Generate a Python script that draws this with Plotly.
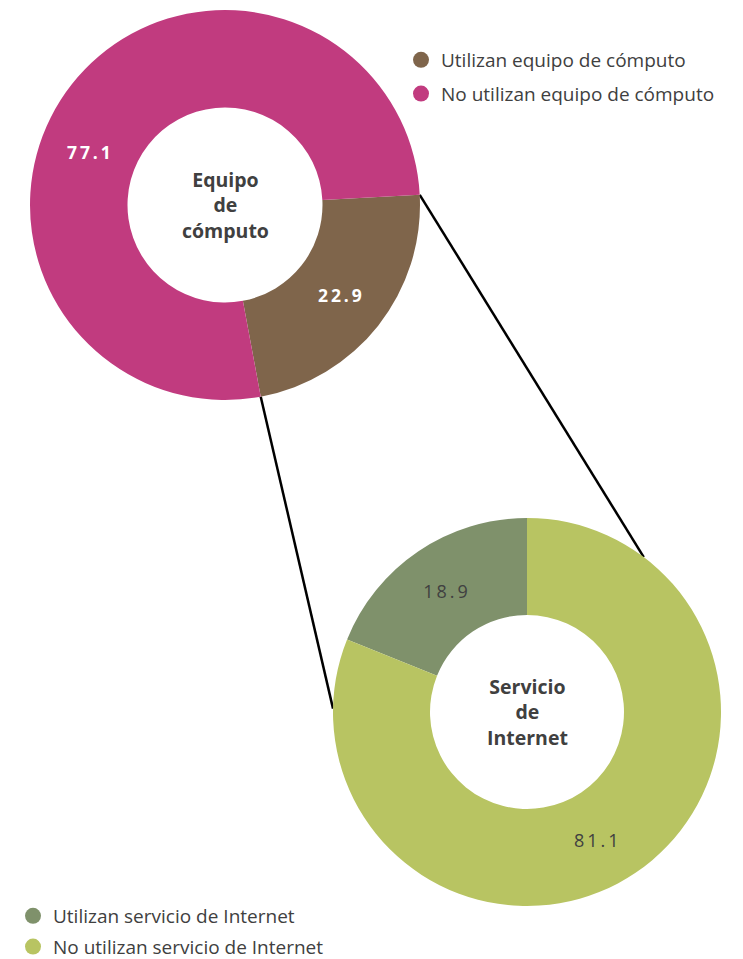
import math
import plotly.graph_objects as go

# ---- data ----
top_labels = ["Utilizan equipo de cómputo", "No utilizan equipo de cómputo"]
top_values = [22.9, 77.1]
top_title = "Equipo<br>de<br>cómputo"

bot_labels = ["Utilizan servicio de Internet", "No utilizan servicio de Internet"]
bot_values = [18.9, 81.1]
bot_title = "Servicio<br>de<br>Internet"

# ---- style / layout (page pixel coordinates) ----
top_colors = ["#7f654b", "#c13b7f"]
bot_colors = ["#7f916b", "#b8c462"]
FONT = "Open Sans"
OFF = 8                      # default body margin of the page
W, H = 735, 951
HOLE = 0.5

TOP = dict(cx=225, cy=205, R=195)
BOT = dict(cx=527, cy=712, R=194)


def px(x):
    return (x - OFF) / W


def py(y):
    return 1 - (y - OFF) / H


def domain(g):
    return dict(x=[px(g["cx"] - g["R"]), px(g["cx"] + g["R"])],
                y=[py(g["cy"] + g["R"]), py(g["cy"] - g["R"])])


def spaced(v):
    return "\u2009".join(f"{v:.1f}")


def pt(g, ang, r):
    a = math.radians(ang)
    return px(g["cx"] + r * math.sin(a)), py(g["cy"] - r * math.cos(a))


top_rot = 87
bot_rot = -360 * bot_values[0] / sum(bot_values)

fig = go.Figure()
fig.add_trace(go.Pie(
    labels=top_labels, values=top_values, hole=HOLE, sort=False,
    direction="clockwise", rotation=top_rot, domain=domain(TOP),
    marker=dict(colors=top_colors, line=dict(width=0)),
    text=[spaced(top_values[0]), ""], textinfo="text",
    textposition="inside", insidetextorientation="horizontal",
    textfont=dict(family=FONT, size=17.5, color="white", weight="bold"),
    showlegend=False, hoverinfo="label+value"))
fig.add_trace(go.Pie(
    labels=bot_labels, values=bot_values, hole=HOLE, sort=False,
    direction="clockwise", rotation=bot_rot, domain=domain(BOT),
    marker=dict(colors=bot_colors, line=dict(width=0)),
    text=[spaced(bot_values[0]), ""], textinfo="text",
    textposition="inside", insidetextorientation="horizontal",
    textfont=dict(family=FONT, size=18, color="#404040"),
    showlegend=False, hoverinfo="label+value"))

# legend entries (circle markers)
for i, (lab, col) in enumerate(zip(top_labels, top_colors)):
    fig.add_trace(go.Scatter(x=[None], y=[None], mode="markers", name=lab,
                             legendgroup=f"t{i}",
                             marker=dict(symbol="circle", size=18, color=col),
                             legend="legend"))
for i, (lab, col) in enumerate(zip(bot_labels, bot_colors)):
    fig.add_trace(go.Scatter(x=[None], y=[None], mode="markers", name=lab,
                             legendgroup=f"b{i}",
                             marker=dict(symbol="circle", size=18, color=col),
                             legend="legend2"))

# labels of the large slices (placed off their mid angle, as in the source)
for g, ang, val, fnt in [
        (TOP, 291.4, top_values[1], dict(family=FONT, size=17.5, color="white", weight="bold")),
        (BOT, 151.5, bot_values[1], dict(family=FONT, size=18, color="#404040"))]:
    lx, ly = pt(g, ang, g["R"] * (1 + HOLE) / 2)
    fig.add_annotation(x=lx, y=ly, xref="paper", yref="paper", text=spaced(val),
                       showarrow=False, xanchor="center", yanchor="middle", font=fnt)

# connector lines
top_end = top_rot + 360 * top_values[0] / sum(top_values)
for a_top, a_bot in [(top_rot, 37), (top_end, 271)]:
    x0, y0 = pt(TOP, a_top, TOP["R"])
    x1, y1 = pt(BOT, a_bot, BOT["R"])
    fig.add_shape(type="line", xref="paper", yref="paper", x0=x0, y0=y0, x1=x1, y1=y1,
                  line=dict(color="black", width=2.5), layer="below")

for g, t in [(TOP, top_title), (BOT, bot_title)]:
    fig.add_annotation(x=px(g["cx"]), y=py(g["cy"]), xref="paper", yref="paper",
                       text=t, showarrow=False, align="center",
                       xanchor="center", yanchor="middle",
                       font=dict(family=FONT, size=19.5, color="#404040", weight="bold"))

legfont = dict(family=FONT, size=19, color="#404040")
fig.update_layout(
    width=W, height=H, margin=dict(l=0, r=0, t=0, b=0, autoexpand=False),
    paper_bgcolor="white", plot_bgcolor="white",
    xaxis=dict(visible=False), yaxis=dict(visible=False),
    legend=dict(x=px(401), y=py(41), xanchor="left", yanchor="top",
                font=legfont, bgcolor="rgba(0,0,0,0)", tracegroupgap=6),
    legend2=dict(x=px(13), y=py(897), xanchor="left", yanchor="top",
                 font=legfont, bgcolor="rgba(0,0,0,0)", tracegroupgap=3),
)
fig.write_html("out.html")
